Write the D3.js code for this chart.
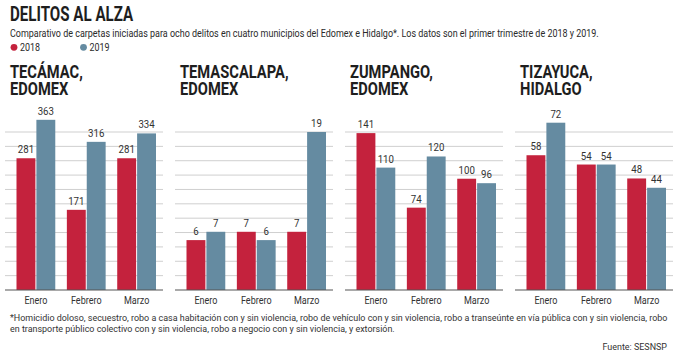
<!DOCTYPE html>
<html>
<head>
<meta charset="utf-8">
<script src="https://cdn.jsdelivr.net/npm/d3@7"></script>
<style>
  body { margin: 0; background: #fff; }
  svg { display: block; }
  text { font-family: Roboto, "Noto Sans", sans-serif; }
</style>
</head>
<body>
<div id="chart"></div>
<script>
// data
const months = ['Enero', 'Febrero', 'Marzo'];
const years = ['2018', '2019'];
const municipios = [['TECÁMAC,', 'EDOMEX'], ['TEMASCALAPA,', 'EDOMEX'], ['ZUMPANGO,', 'EDOMEX'], ['TIZAYUCA,', 'HIDALGO']];
const values2018 = [[281, 171, 281], [6, 7, 7], [141, 74, 100], [58, 54, 48]];
const values2019 = [[363, 316, 334], [7, 6, 19], [110, 120, 96], [72, 54, 44]];
// value reached at the top grid line in each panel
const panelTop = [337, 19, 142, 68];

const W = 696, H = 361;
const colors = {'2018': '#c4223d', '2019': '#658ba1'};
const yBase = 290, yTop = 132, nGrid = 11;
const panelW = 158, panelStep = 170;

const svg = d3.select('#chart').append('svg')
    .attr('width', W)
    .attr('height', H);

// condensed text: scale horizontally around the anchor point
function ctext(g, x, y, str, k) {
    return g.append('text')
        .attr('transform', `translate(${x},${y}) scale(${k},1)`)
        .text(str);
}

// header
ctext(svg, 10, 21, 'DELITOS AL ALZA', 0.775)
    .attr('font-size', 19.5).attr('font-weight', 700).attr('fill', '#1e1e1e');
ctext(svg, 10, 37, 'Comparativo de carpetas iniciadas para ocho delitos en cuatro municipios del Edomex e Hidalgo*. Los datos son el primer trimestre de 2018 y 2019.', 0.855)
    .attr('font-size', 10.5).attr('fill', '#2a2a2a');

// legend
const legend = svg.append('g').attr('class', 'legend');
years.forEach((yr, i) => {
    const lx = 14 + i * 69.5;
    legend.append('circle')
        .attr('cx', lx).attr('cy', 47.3).attr('r', 3.4)
        .attr('fill', colors[yr]);
    ctext(legend, lx + 6, 51, yr, 0.85)
        .attr('font-size', 10.5).attr('fill', '#2a2a2a');
});

// panels
municipios.forEach((name, i) => {
    const x0 = 5 + i * panelStep;
    const g = svg.append('g').attr('class', 'panel');

    // two-line panel title in one text element
    const title = g.append('text')
        .attr('transform', `translate(${x0 + 5},77.5) scale(0.84,1)`)
        .attr('font-size', 17.5).attr('font-weight', 700).attr('fill', '#1e1e1e');
    title.selectAll('tspan')
        .data(name)
        .join('tspan')
        .attr('x', 0)
        .attr('y', (d, j) => j * 17.5)
        .text(d => d);

    const y = d3.scaleLinear([0, panelTop[i]], [yBase, yTop]);
    const x = d3.scaleBand(months, [x0 + 11.5, x0 + 151])
        .paddingInner(0.23);
    const xs = d3.scaleBand(years, [0, x.bandwidth()])
        .paddingInner(0.05);

    // grid lines
    g.append('g')
        .selectAll('line')
        .data(d3.range(1, nGrid + 1))
        .join('line')
        .attr('x1', x0).attr('x2', x0 + panelW)
        .attr('y1', k => yBase - k * (yBase - yTop) / nGrid)
        .attr('y2', k => yBase - k * (yBase - yTop) / nGrid)
        .attr('stroke', '#cfcfcf')
        .attr('stroke-width', 1);

    const rows = months.map((m, j) => ({month: m, '2018': values2018[i][j], '2019': values2019[i][j]}));
    const bars = rows.flatMap(r => years.map(yr => ({month: r.month, year: yr, value: r[yr]})));

    g.append('g')
        .selectAll('rect')
        .data(bars)
        .join('rect')
        .attr('x', d => x(d.month) + xs(d.year))
        .attr('width', xs.bandwidth())
        .attr('y', d => y(d.value))
        .attr('height', d => yBase - y(d.value))
        .attr('fill', d => colors[d.year]);

    // value labels
    const lbl = g.append('g');
    bars.forEach(d => {
        ctext(lbl, x(d.month) + xs(d.year) + xs.bandwidth() / 2, y(d.value) - 5, d.value, 0.88)
            .attr('font-size', 11).attr('fill', '#333').attr('text-anchor', 'middle');
    });

    // baseline
    g.append('line')
        .attr('x1', x0).attr('x2', x0 + panelW)
        .attr('y1', yBase).attr('y2', yBase)
        .attr('stroke', '#555').attr('stroke-width', 1.2);

    // month labels
    months.forEach(m => {
        ctext(g, x(m) + x.bandwidth() / 2, 304, m, 0.82)
            .attr('font-size', 11).attr('fill', '#333').attr('text-anchor', 'middle');
    });
});

// footnote
const notes = [
    '*Homicidio doloso, secuestro, robo a casa habitación con y sin violencia, robo de vehículo con y sin violencia, robo a transeúnte en vía pública con y sin violencia, robo',
    'en transporte público colectivo con y sin violencia, robo a negocio con y sin violencia, y extorsión.'
];
notes.forEach((t, i) => {
    svg.append('text')
        .attr('x', 10).attr('y', 321 + i * 11)
        .attr('font-size', 8.95).attr('fill', '#333')
        .text(t);
});
svg.append('text')
    .attr('x', 667).attr('y', 350)
    .attr('text-anchor', 'end')
    .attr('font-size', 8.95).attr('fill', '#333')
    .text('Fuente: SESNSP');
</script>
</body>
</html>
